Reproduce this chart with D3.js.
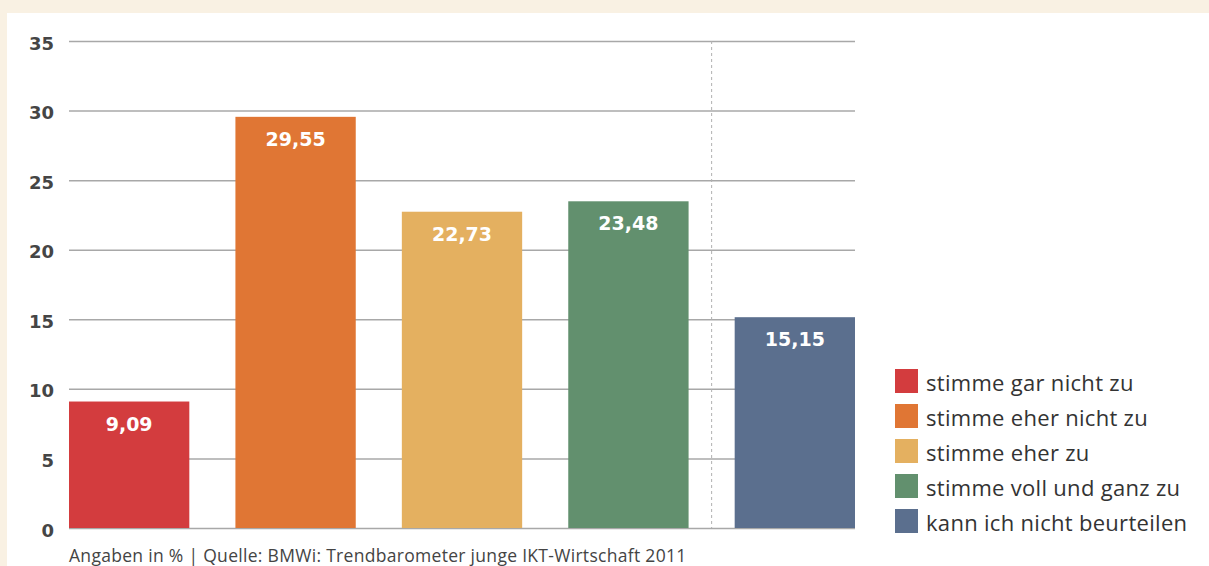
<!DOCTYPE html>
<html>
<head>
<meta charset="utf-8">
<script src="https://cdn.jsdelivr.net/npm/d3@7"></script>
<style>
  html, body { margin: 0; padding: 0; background: #f9f1e3; }
  svg { display: block; }
</style>
</head>
<body>
<svg id="chart" width="1209" height="566"></svg>
<script>
// Survey answers (percent)
const categories = [
  "stimme gar nicht zu",
  "stimme eher nicht zu",
  "stimme eher zu",
  "stimme voll und ganz zu",
  "kann ich nicht beurteilen"
];
const values = [9.09, 29.55, 22.73, 23.48, 15.15];
const valueLabels = ["9,09", "29,55", "22,73", "23,48", "15,15"];
const colors = ["#d33c3e", "#e07634", "#e4b060", "#62906e", "#5b6f8e"];
const yTicks = [0, 5, 10, 15, 20, 25, 30, 35];
const footnote = "Angaben in % | Quelle: BMWi: Trendbarometer junge IKT-Wirtschaft 2011";

(function draw() {
  const svg = d3.select("#chart");
  const W = 1209, H = 566;

  // white card
  svg.append("rect").attr("x", 7).attr("y", 13).attr("width", W - 7).attr("height", H - 13).attr("fill", "#ffffff");

  const plot = { left: 69, right: 855, top: 41, bottom: 528 };

  const x = d3.scaleBand().domain(categories).range([plot.left, plot.right]).paddingInner(0.277).paddingOuter(0);
  const y = d3.scaleLinear().domain([0, 35]).range([plot.bottom, plot.top]);

  const boldFont = "'DejaVu Sans', 'Open Sans', sans-serif";
  const textFont = "'Open Sans', Roboto, sans-serif";

  // horizontal grid + y labels
  const yAxis = d3.axisLeft(y).tickValues(yTicks).tickSize(-(plot.right - plot.left)).tickFormat(d3.format("d")).tickPadding(15);
  const gy = svg.append("g").attr("transform", `translate(${plot.left},0)`).call(yAxis);
  gy.select(".domain").remove();
  gy.selectAll(".tick line").attr("stroke", "#a8a8a8").attr("stroke-width", 1.5);
  gy.selectAll(".tick text")
    .attr("fill", "#454545")
    .attr("dy", "0.45em")
    .style("font-family", boldFont)
    .style("font-weight", "700")
    .style("font-size", "18px");

  // dashed separator before the last answer
  const sepX = (x(categories[3]) + x.bandwidth() + x(categories[4])) / 2;
  svg.append("line")
    .attr("x1", sepX).attr("x2", sepX)
    .attr("y1", y(35)).attr("y2", y(0))
    .attr("stroke", "#b0b0b0").attr("stroke-width", 1).attr("stroke-dasharray", "3,3");

  // bars
  svg.append("g").selectAll("rect")
    .data(values)
    .join("rect")
    .attr("x", (d, i) => x(categories[i]))
    .attr("y", d => y(d))
    .attr("width", x.bandwidth())
    .attr("height", d => y(0) - y(d))
    .attr("fill", (d, i) => colors[i]);

  // value labels inside bars
  svg.append("g").selectAll("text")
    .data(values)
    .join("text")
    .attr("x", (d, i) => x(categories[i]) + x.bandwidth() / 2)
    .attr("y", d => y(d) + 29)
    .attr("text-anchor", "middle")
    .attr("fill", "#ffffff")
    .style("font-family", boldFont)
    .style("font-weight", "700")
    .style("font-size", "19px")
    .text((d, i) => valueLabels[i]);

  // legend
  const legend = svg.append("g").attr("transform", "translate(895,369)");
  const items = legend.selectAll("g")
    .data(categories)
    .join("g")
    .attr("transform", (d, i) => `translate(0,${i * 35})`);
  items.append("rect").attr("width", 23).attr("height", 24).attr("fill", (d, i) => colors[i]);
  items.append("text")
    .attr("x", 31).attr("y", 22)
    .attr("fill", "#333")
    .style("font-family", textFont)
    .style("font-size", "22px")
    .style("letter-spacing", "0.3px")
    .text(d => d);

  // source note
  svg.append("text")
    .attr("x", 69).attr("y", 562)
    .attr("fill", "#444")
    .style("font-family", textFont)
    .style("font-size", "17.5px")
    .style("letter-spacing", "0.3px")
    .text(footnote);
})();
</script>
</body>
</html>
